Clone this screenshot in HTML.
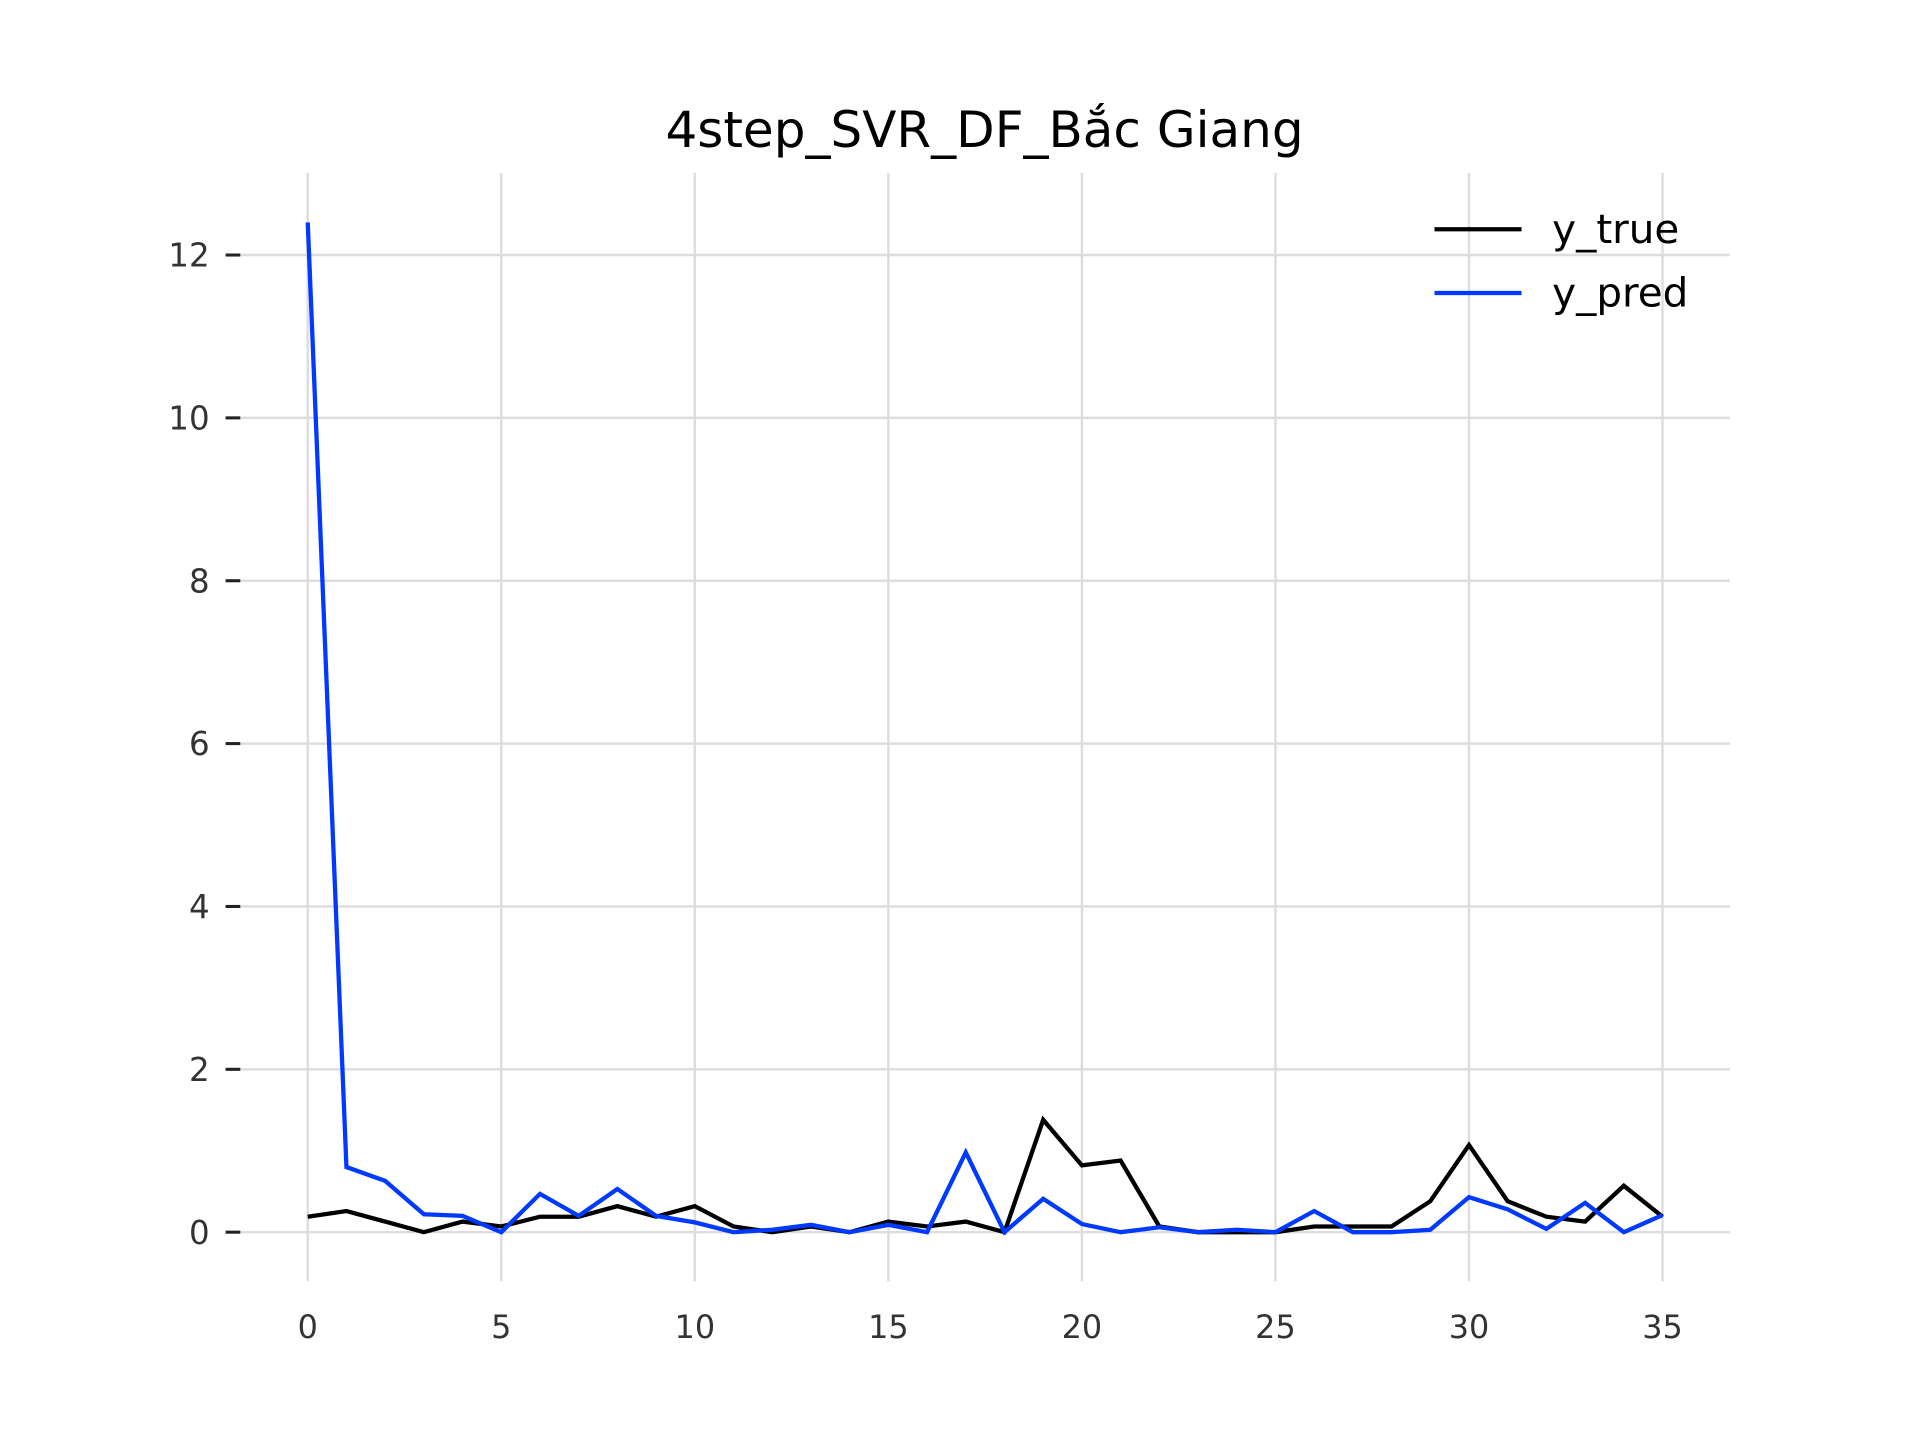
<!DOCTYPE html>
<html><head><meta charset="utf-8"><style>
html,body{margin:0;padding:0;background:#fff;}
svg{display:block;}
text{font-family:"DejaVu Sans","Liberation Sans",sans-serif;}
</style></head><body>
<svg id="chart" width="1920" height="1440" viewBox="0 0 1566 1174.5" xmlns="http://www.w3.org/2000/svg">
<rect width="1566" height="1174.5" fill="#fff"/>
<text x="803" y="120" text-anchor="middle" font-size="40.8" fill="#000">4step_SVR_DF_Bắc Giang</text>
<g id="grid"></g><g id="axes"></g><g id="series"></g>
<g>
<line x1="1170" y1="187" x2="1241" y2="187" stroke="#000" stroke-width="3.5"/>
<text x="1266" y="198" font-size="33" fill="#000">y_true</text>
<line x1="1170" y1="239" x2="1241" y2="239" stroke="#0039ff" stroke-width="3.5"/>
<text x="1266" y="250" font-size="33" fill="#000">y_pred</text>
</g>
</svg>
<script>
const yTrue = [0.19,0.26,0.13,0.0,0.13,0.07,0.19,0.19,0.32,0.19,0.32,0.07,0.0,0.07,0.0,0.13,0.07,0.13,0.0,1.38,0.82,0.88,0.07,0.0,0.0,0.0,0.07,0.07,0.07,0.38,1.07,0.38,0.19,0.13,0.57,0.19];
const yPred = [12.4,0.8,0.63,0.22,0.2,0.0,0.47,0.2,0.53,0.2,0.12,0.0,0.03,0.09,0.0,0.09,0.0,0.98,0.0,0.41,0.1,0.0,0.06,0.0,0.03,0.0,0.26,0.0,0.0,0.03,0.43,0.28,0.04,0.36,0.0,0.21];
const xTicks = [0,5,10,15,20,25,30,35];
const yTicks = [0,2,4,6,8,10,12];

const NS = "http://www.w3.org/2000/svg";
const L = 196, R = 1411, T = 141, B = 1045;
function xs(v){ return 251 + v * (1356 - 251) / 35; }
function ys(v){ return 1005 - v * (1005 - 208) / 12; }
function mk(tag, attrs, parent){
  const e = document.createElementNS(NS, tag);
  for (const k in attrs) e.setAttribute(k, attrs[k]);
  parent.appendChild(e);
  return e;
}
const grid = document.getElementById('grid');
const axes = document.getElementById('axes');
const series = document.getElementById('series');
xTicks.forEach(t => {
  const g = mk('line', {x1: xs(t), x2: xs(t), y1: T, y2: B, stroke: '#dddddd', 'stroke-width': 2}, grid);
  
  
  const lb = mk('text', {x: xs(t), y: 1091.5, 'text-anchor': 'middle', 'font-size': 26, fill: '#333'}, axes);
  lb.textContent = t;
  
  
});
yTicks.forEach(t => {
  const g = mk('line', {x1: L, x2: R, y1: ys(t), y2: ys(t), stroke: '#dddddd', 'stroke-width': 2}, grid);
  
  
  const tk = mk('line', {x1: 184, x2: 196, y1: ys(t), y2: ys(t), stroke: '#222', 'stroke-width': 2.5}, axes);
  
  
  const lb = mk('text', {x: 171, y: ys(t) + 9.5, 'text-anchor': 'end', 'font-size': 26.5, fill: '#333'}, axes);
  lb.textContent = t;
  
  
});
function drawLine(arr, color, name){
  const pts = arr.map((v, i) => xs(i).toFixed(2) + ',' + ys(v).toFixed(2)).join(' ');
  const p = mk('polyline', {points: pts, fill: 'none', stroke: color, 'stroke-width': 3.5, 'stroke-linejoin': 'miter'}, series);
  
  
}
drawLine(yTrue, '#000000', 'y-true-line');
drawLine(yPred, '#0039ff', 'y-pred-line');
</script>
</body></html>
